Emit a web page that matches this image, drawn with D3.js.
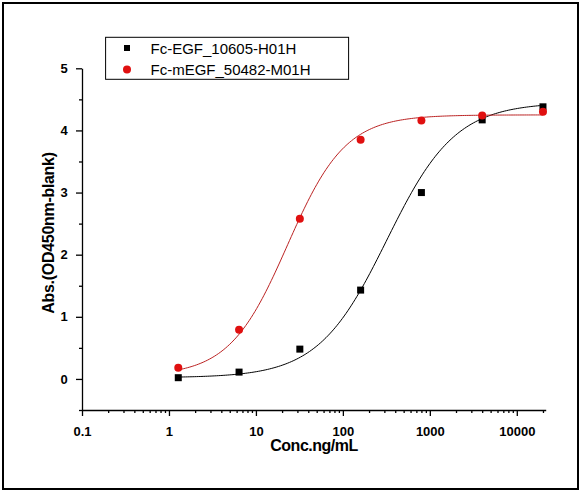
<!DOCTYPE html><html><head><script src="https://cdn.jsdelivr.net/npm/d3@7"></script>
<style>body{margin:0;background:#fff}</style></head><body><svg id="c" width="582" height="493"></svg>
<script>
const conc=[1.28,6.4,32,160,800,4000,20000];
const egf=[0.02,0.11,0.48,1.43,3.0,4.17,4.38];
const megf=[0.18,0.79,2.58,3.85,4.16,4.24,4.30];
// 4PL fit parameters [bottom, top, EC50, hill]
const fitEgf=[0.02,4.45,320,1.1];
const fitMegf=[0.05,4.25,23,1.3];
const xTicks=[0.1,1,10,100,1000,10000];
const yTicks=[0,1,2,3,4,5];
const names=["Fc-EGF_10605-H01H","Fc-mEGF_50482-M01H"];

const svg=d3.select("#c");
svg.append("rect").attr("x",3).attr("y",3).attr("width",575).attr("height",486).attr("fill","none").attr("stroke","#000").attr("stroke-width",2);
const x=d3.scaleLog().domain([0.1,21500]).range([82,545.7]);
const y=d3.scaleLinear().domain([-0.5,5]).range([410,68.3]);
const font="Liberation Sans, Arial, sans-serif";
const g=svg.append("g");
const xa=g.append("g").attr("transform","translate(0,410)").call(d3.axisBottom(x).tickValues(xTicks).tickFormat(d=>d3.format("~g")(d)).tickSize(6).tickSizeOuter(0));
const minors=[];for(let e=-1;e<5;e++)for(let m=2;m<10;m++){const v=m*Math.pow(10,e);if(v<=21500)minors.push(v);}
g.append("g").attr("transform","translate(0,410)").call(d3.axisBottom(x).tickValues(minors).tickFormat("").tickSize(3).tickSizeOuter(0)).select(".domain").remove();
const ya=g.append("g").attr("transform","translate(82,0)").call(d3.axisLeft(y).tickValues(yTicks).tickFormat(d3.format("d")).tickSize(6).tickSizeOuter(0));
g.append("g").attr("transform","translate(82,0)").call(d3.axisLeft(y).tickValues([-0.5,0.5,1.5,2.5,3.5,4.5]).tickFormat("").tickSize(3).tickSizeOuter(0)).select(".domain").remove();
g.selectAll(".tick text").attr("font-family",font).attr("font-weight","bold").attr("font-size",13).attr("fill","#000");
xa.selectAll(".tick text").attr("dy","1.3em");
ya.selectAll(".tick text").attr("dx","-0.4em");
g.selectAll("path.domain,line").attr("stroke","#000").attr("stroke-width",1.3);
svg.append("text").attr("text-anchor","middle").attr("x",314).attr("y",451).attr("font-family",font).attr("font-weight","bold").attr("font-size",16).attr("letter-spacing","-0.5").text("Conc.ng/mL");
svg.append("text").attr("transform","translate(54,233) rotate(-90)").attr("text-anchor","middle").attr("font-family",font).attr("font-weight","bold").attr("font-size",16).attr("letter-spacing","-0.3").text("Abs.(OD450nm-blank)");
function fpl(p,v){return p[0]+(p[1]-p[0])/(1+Math.pow(p[2]/v,p[3]));}
const xs=d3.range(0,201).map(i=>Math.pow(10,Math.log10(1.28)+i*(Math.log10(20000)-Math.log10(1.28))/200));
const line=p=>d3.line().x(d=>x(d)).y(d=>y(fpl(p,d)))(xs);
svg.append("path").attr("d",line(fitEgf)).attr("fill","none").attr("stroke","#000").attr("stroke-width",1);
svg.append("path").attr("d",line(fitMegf)).attr("fill","none").attr("stroke","#b22").attr("stroke-width",1);
svg.selectAll(".sq").data(conc).enter().append("rect").attr("x",d=>x(d)-3.5).attr("y",(d,i)=>y(egf[i])-3.5).attr("width",7).attr("height",7).attr("fill","#000");
svg.selectAll(".ci").data(conc).enter().append("circle").attr("cx",d=>x(d)).attr("cy",(d,i)=>y(megf[i])).attr("r",4).attr("fill","#e01010");
svg.append("rect").attr("x",105.6).attr("y",37.3).attr("width",243).attr("height",42).attr("fill","#fff").attr("stroke","#000").attr("stroke-width",1);
svg.append("rect").attr("x",124).attr("y",45).attr("width",6).attr("height",6).attr("fill","#000");
svg.append("circle").attr("cx",127).attr("cy",69.5).attr("r",4).attr("fill","#e01010");
names.forEach((n,i)=>svg.append("text").attr("x",150.5).attr("y",53.5+i*21).attr("font-family",font).attr("font-size",15).text(n));
</script></body></html>
